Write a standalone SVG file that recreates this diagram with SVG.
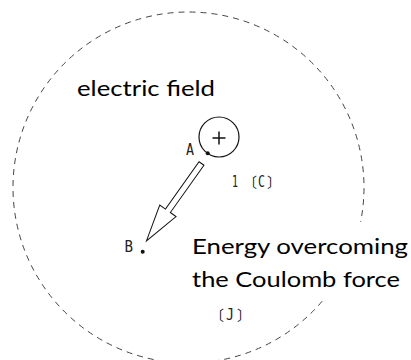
<svg xmlns="http://www.w3.org/2000/svg" width="411" height="360" viewBox="0 0 411 360">
<style>
.big{font-family:Lato,"Open Sans",sans-serif;font-size:20.5px;fill:#000}
.sm{font-family:"DejaVu Sans Mono","Noto Sans CJK JP",monospace;font-size:16px;fill:#222}
.cjk{font-family:"Noto Sans CJK JP",monospace;font-size:14px;fill:#222}
</style>
<rect width="411" height="360" fill="#fff"/>
<g id="field">
<path d="M322.2 301.2A175.5 175.5 0 1 1 360.6 221.9" fill="none" stroke="#444" stroke-width="1" stroke-dasharray="6 5"/>
<text class="big" x="77" y="96" textLength="138" lengthAdjust="spacingAndGlyphs">electric field</text>
</g>
<g id="charge">
<circle cx="219" cy="137" r="20" fill="none" stroke="#111" stroke-width="1.2"/>
<path d="M212.5 138H225.5M219 131.5V144.5" stroke="#111" stroke-width="1.5"/>
<text class="sm" x="232" y="187" textLength="6" lengthAdjust="spacingAndGlyphs">1</text>
<text class="cjk" x="243" y="187">〔</text>
<text class="sm" x="258" y="187" textLength="7" lengthAdjust="spacingAndGlyphs">C</text>
<text class="cjk" x="267" y="187">〕</text>
</g>
<g id="pointA">
<circle cx="207.7" cy="153.3" r="2" fill="#111"/>
<text class="sm" x="186" y="155" textLength="8" lengthAdjust="spacingAndGlyphs">A</text>
</g>
<g id="pointB">
<circle cx="142.7" cy="251.7" r="2" fill="#111"/>
<text class="sm" x="124.5" y="252" textLength="8.5" lengthAdjust="spacingAndGlyphs">B</text>
</g>
<g id="connectors">
<polygon transform="translate(201.5 163.5) rotate(125.4)" points="0,-3 58,-3 58,-10 95,0 58,10 58,3 0,3" fill="#fff" stroke="#111" stroke-width="1"/>
</g>
<g id="energy">
<text class="big" x="192" y="254" textLength="216" lengthAdjust="spacingAndGlyphs">Energy overcoming</text>
<text class="big" x="192" y="287" textLength="208" lengthAdjust="spacingAndGlyphs">the Coulomb force</text>
<text class="cjk" x="210" y="320">〔</text>
<text class="sm" x="226" y="320" textLength="8" lengthAdjust="spacingAndGlyphs">J</text>
<text class="cjk" x="237" y="320">〕</text>
</g>
</svg>
